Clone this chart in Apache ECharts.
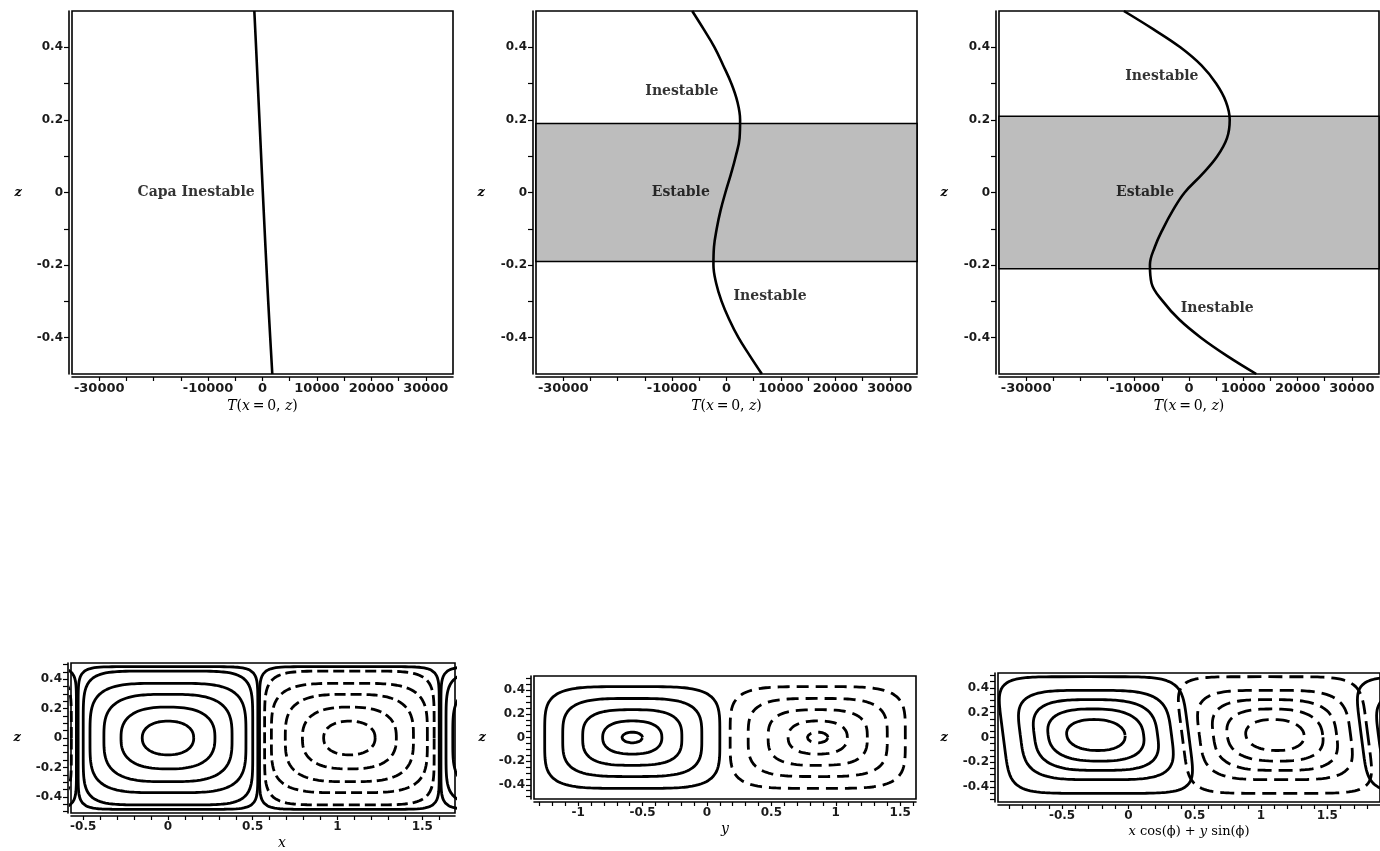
<!DOCTYPE html>
<html>
<head>
<meta charset="utf-8">
<script src="https://cdn.jsdelivr.net/npm/echarts@6/dist/echarts.min.js"></script>
<style>
  html, body { margin: 0; padding: 0; background: #ffffff; }
  #chart { width: 1380px; height: 851px; }
</style>
</head>
<body>
<div id="chart"></div>
<script>
// ---------- Vertical profiles T(x = 0, z) ----------
const profileZ1 = [0.5, 0.4, 0.3, 0.2, 0.1, 0, -0.1, -0.2, -0.3, -0.4, -0.5];
const profileT1 = [-1500, -1180, -870, -560, -250, 60, 380, 710, 1050, 1420, 1800];

const profileZ2 = [0.5, 0.45, 0.4, 0.35, 0.3, 0.25, 0.2, 0.15, 0.1, 0.05, 0,
                   -0.05, -0.1, -0.15, -0.2, -0.25, -0.3, -0.35, -0.4, -0.45, -0.5];
const profileT2 = [-6300, -4200, -2200, -600, 900, 2000, 2500, 2400, 1700, 800, -200,
                   -1100, -1800, -2300, -2400, -1900, -900, 500, 2200, 4300, 6500];

const profileZ3 = [0.5, 0.45, 0.4, 0.35, 0.3, 0.25, 0.2, 0.15, 0.1, 0.05, 0,
                   -0.05, -0.1, -0.15, -0.2, -0.25, -0.3, -0.35, -0.4, -0.45, -0.5];
const profileT3 = [-12000, -6600, -1600, 2300, 5000, 6800, 7500, 7000, 5200, 2400, -800,
                   -3000, -4800, -6300, -7200, -6900, -4800, -1800, 2200, 7000, 12400];

// stable layer limits (z) in the second and third profile
const stableBand2 = [-0.19, 0.19];
const stableBand3 = [-0.21, 0.21];

// region labels: [T, z, text]
const labels1 = [[-12200, 0, 'Capa Inestable']];
const labels2 = [[-8200, 0.28, 'Inestable'], [-8400, 0, 'Estable'], [8000, -0.285, 'Inestable']];
const labels3 = [[-5000, 0.32, 'Inestable'], [-8100, 0, 'Estable'], [5200, -0.32, 'Inestable']];

// tick labels of the profile panels
const profileTLabels = [-30000, -10000, 0, 10000, 20000, 30000];
const zLabels = [-0.4, -0.2, 0, 0.2, 0.4];

// ---------- Streamline cells (z vs horizontal coordinate) ----------
// x–z section: cell centres, sense of rotation (+1 solid, -1 dashed) and nested streamlines
const cellsXZ = [-1.07, 0, 1.07, 2.14];
const senseXZ = [-1, 1, -1, 1];
const halfWidthXZ = [0.152, 0.277, 0.378, 0.46, 0.5, 0.53];
const halfHeightXZ = [0.115, 0.21, 0.297, 0.372, 0.455, 0.485];
const squarenessXZ = [2.2, 2.6, 3.2, 4, 6, 10];

// y–z section
const cellsYZ = [-0.58, 0.86];
const senseYZ = [1, -1];
const halfWidthYZ = [0.08, 0.23, 0.385, 0.54, 0.68];
const halfHeightYZ = [0.045, 0.14, 0.235, 0.33, 0.43];
const squarenessYZ = [2, 2.4, 3, 3.6, 4.5];

// oblique section x cos(phi) + y sin(phi)
const cellsOb = [-0.245, 1.105, 2.455];
const senseOb = [1, -1, 1];
const halfWidthOb = [0.22, 0.36, 0.465, 0.57, 0.7];
const halfHeightOb = [0.125, 0.21, 0.285, 0.36, 0.47];
const squarenessOb = [2.2, 2.6, 3.2, 4, 6];

// tick labels of the section panels
const xzLabels = [-0.5, 0, 0.5, 1, 1.5];
const yzLabels = [-1, -0.5, 0, 0.5, 1, 1.5];
const obLabels = [-0.5, 0, 0.5, 1, 1.5];

// ---------- helpers ----------
function ticksFrom(a, b, step) {
  const out = [];
  const n = Math.round((b - a) / step);
  for (let i = 0; i <= n; i++) out.push(Math.round((a + i * step) * 1e6) / 1e6);
  return out;
}
function fmt(v) {
  const r = Math.round(v * 1000) / 1000;
  return r < 0 ? '-' + Math.abs(r) : String(r);
}
// closed streamline traced as a rounded (super-elliptic) ring
function ringPoints(cx, cz, a, b, n, shear) {
  const pts = [];
  const N = 200;
  for (let k = 0; k <= N; k++) {
    const t = 2 * Math.PI * k / N;
    const c = Math.cos(t), s = Math.sin(t);
    const u = Math.sign(c) * Math.pow(Math.abs(c), 2 / n);
    const v = Math.sign(s) * Math.pow(Math.abs(s), 2 / n);
    pts.push([cx + a * u - shear * b * v, cz + b * v]);
  }
  return pts;
}
function cellSeries(gi, cells, sense, cz, halfW, halfH, shape, shear, dash, solidFrom, width) {
  const out = [];
  cells.forEach((cx, ci) => {
    halfW.forEach((a, ri) => {
      const solid = sense[ci] > 0 || ri >= solidFrom;
      out.push({
        type: 'line', xAxisIndex: gi, yAxisIndex: gi,
        data: ringPoints(cx, cz, a, halfH[ri], shape[ri], shear),
        showSymbol: false, symbol: 'none', clip: true, silent: true, z: 2,
        lineStyle: { color: '#000', width: width, type: solid ? 'solid' : dash, cap: 'butt' }
      });
    });
  });
  return out;
}

const tickFont = { fontFamily: 'DejaVu Sans', fontWeight: 'bold', fontSize: 12, color: '#1a1a1a' };
const italic = { fontFamily: 'DejaVu Serif', fontStyle: 'italic', fontSize: 14, color: '#000' };

function xAxisFor(gi, min, max, labels, ticks, name, gap, pad, size) {
  return {
    type: 'value', gridIndex: gi, min: min, max: max, offset: 3,
    name: name, nameLocation: 'middle', nameGap: gap,
    nameTextStyle: { fontFamily: 'DejaVu Serif', fontSize: size, color: '#000', padding: pad,
      rich: { i: Object.assign({}, italic, { fontSize: size }) } },
    axisLine: { show: true, onZero: false, lineStyle: { color: '#000', width: 1.6 } },
    axisTick: { show: true, inside: false, length: 4, customValues: ticks, lineStyle: { color: '#000', width: 1.2 } },
    axisLabel: Object.assign({ customValues: labels, formatter: fmt, margin: 5 }, tickFont, gi < 3 ? { fontSize: 13 } : {}),
    splitLine: { show: false }
  };
}
function yAxisFor(gi, min, max, ticks, gap) {
  return {
    type: 'value', gridIndex: gi, min: min, max: max, offset: 3,
    name: 'z', nameLocation: 'middle', nameRotate: 0, nameGap: gap,
    nameTextStyle: { fontFamily: 'DejaVu Serif', fontStyle: 'italic', fontWeight: 'bold', fontSize: 13, color: '#000' },
    axisLine: { show: true, onZero: false, lineStyle: { color: '#000', width: 1.6 } },
    axisTick: { show: true, inside: false, length: 5, customValues: ticks, lineStyle: { color: '#000', width: 1.2 } },
    axisLabel: Object.assign({ customValues: zLabels, formatter: fmt, margin: 6 }, tickFont),
    splitLine: { show: false }
  };
}
function profileSeries(gi, zs, ts, band) {
  const s = {
    type: 'line', xAxisIndex: gi, yAxisIndex: gi,
    data: zs.map((z, i) => [ts[i], z]),
    smooth: 0.4, showSymbol: false, symbol: 'none', silent: true, z: 3,
    lineStyle: { color: '#000', width: 2.6 }
  };
  if (band) {
    s.markArea = {
      silent: true,
      itemStyle: { color: '#bdbdbd', borderColor: '#000', borderWidth: 1.6 },
      data: [[{ yAxis: band[0] }, { yAxis: band[1] }]]
    };
  }
  return s;
}
function labelSeries(gi, items) {
  return {
    type: 'scatter', xAxisIndex: gi, yAxisIndex: gi, data: items,
    symbolSize: 1, itemStyle: { color: 'transparent' }, silent: true, z: 5,
    label: { show: true, position: 'inside', formatter: p => p.value[2],
      fontFamily: 'DejaVu Serif', fontWeight: 'bold', fontSize: 14, color: '#000' }
  };
}

const gridBase = { show: true, borderColor: '#000', borderWidth: 1.6, backgroundColor: 'transparent' };
const grids = [
  Object.assign({ left: 72, top: 11, width: 381, height: 363 }, gridBase),
  Object.assign({ left: 536, top: 11, width: 381, height: 363 }, gridBase),
  Object.assign({ left: 999, top: 11, width: 380, height: 363 }, gridBase),
  Object.assign({ left: 71, top: 663, width: 384, height: 150 }, gridBase),
  Object.assign({ left: 534, top: 676, width: 382, height: 123 }, gridBase),
  Object.assign({ left: 998, top: 673, width: 383, height: 129 }, gridBase)
];

const tName = '{i|T}({i|x}\u2009=\u20090, {i|z})';
const profTicks = ticksFrom(-30000, 30000, 5000);
const zTicksTop = ticksFrom(-0.4, 0.4, 0.1);
const zTicksBottom = ticksFrom(-0.5, 0.5, 0.05);

const xAxes = [
  xAxisFor(0, -35000, 35000, profileTLabels, profTicks, tName, 22, [0, 0, 0, 0], 14),
  xAxisFor(1, -35000, 35000, profileTLabels, profTicks, tName, 22, [0, 0, 0, 0], 14),
  xAxisFor(2, -35000, 35000, profileTLabels, profTicks, tName, 22, [0, 0, 0, 0], 14),
  xAxisFor(3, -0.572, 1.693, xzLabels, ticksFrom(-0.5, 1.6, 0.1), '{i|x}', 20, [0, 0, 0, 38], 14),
  xAxisFor(4, -1.343, 1.623, yzLabels, ticksFrom(-1.3, 1.6, 0.1), '{i|y}', 20, [0, 0, 0, 0], 14),
  xAxisFor(5, -0.983, 1.897, obLabels, ticksFrom(-0.9, 1.8, 0.1), '{i|x} cos(\u03d5) + {i|y} sin(\u03d5)', 20, [0, 0, 0, 0], 13)
];
const yAxes = [
  yAxisFor(0, -0.5, 0.5, zTicksTop, 47),
  yAxisFor(1, -0.5, 0.5, zTicksTop, 48),
  yAxisFor(2, -0.5, 0.5, zTicksTop, 48),
  yAxisFor(3, -0.51, 0.51, zTicksBottom, 47),
  yAxisFor(4, -0.52, 0.52, zTicksBottom, 45),
  yAxisFor(5, -0.52, 0.52, zTicksBottom, 47)
];

const series = [].concat(
  [profileSeries(0, profileZ1, profileT1, null), labelSeries(0, labels1)],
  [profileSeries(1, profileZ2, profileT2, stableBand2), labelSeries(1, labels2)],
  [profileSeries(2, profileZ3, profileT3, stableBand3), labelSeries(2, labels3)],
  cellSeries(3, cellsXZ, senseXZ, 0, halfWidthXZ, halfHeightXZ, squarenessXZ, 0, [11, 5], 5, 2.8),
  cellSeries(4, cellsYZ, senseYZ, 0, halfWidthYZ, halfHeightYZ, squarenessYZ, 0, [12, 7], 99, 2.8),
  cellSeries(5, cellsOb, senseOb, 0.02, halfWidthOb, halfHeightOb, squarenessOb, 0.12, [14, 7], 99, 2.8)
);

const chart = echarts.init(document.getElementById('chart'), null, { renderer: 'canvas' });
chart.setOption({
  backgroundColor: '#ffffff',
  animation: false,
  grid: grids,
  xAxis: xAxes,
  yAxis: yAxes,
  series: series
});
</script>
</body>
</html>
